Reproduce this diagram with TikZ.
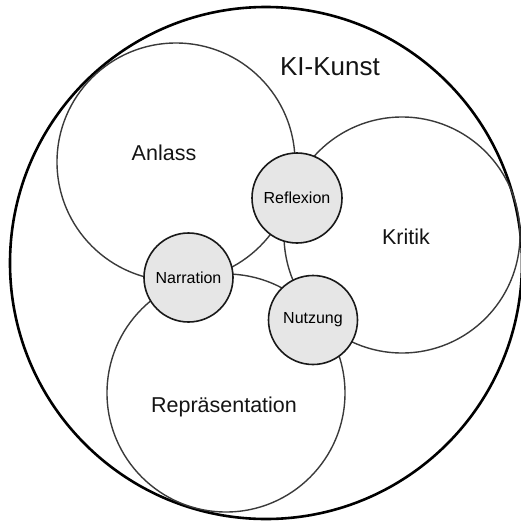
\documentclass[tikz,border=0pt]{standalone}
\usepackage{fontspec}
\setmainfont{Liberation Sans}
\definecolor{smallfill}{HTML}{E6E6E6}
\definecolor{linegray}{HTML}{3A3A3A}
\begin{document}
\begin{tikzpicture}[x=1pt,y=-1pt,
  outerring/.style={circle,draw=black,line width=2.6pt,minimum size=#1,inner sep=0pt},
  area/.style={circle,draw=linegray,line width=1.4pt,minimum size=#1,inner sep=0pt},
  hub/.style={circle,draw=black!90,fill=smallfill,line width=1.6pt,minimum size=#1,inner sep=0pt,font=\fontsize{16}{19}\selectfont},
  biglabel/.style={font=\fontsize{21.5}{25}\selectfont,text=black!92,inner sep=0pt},
  title/.style={font=\fontsize{26}{30}\selectfont,text=black!92,inner sep=0pt}]
\useasboundingbox (0,0) rectangle (521,523);
\node[outerring=512pt] (kunst) at (266,263) {};
\node[area=238pt] (anlass) at (176,162) {};
\node[area=236pt] (kritik) at (402,235) {};
\node[area=238pt] (repr) at (226,393) {};
\node[hub=90pt] (reflexion) at (297,198) {Reflexion};
\node[hub=89pt] (narration) at (188.5,277.5) {Narration};
\node[hub=89pt] (nutzung) at (313,320) {Nutzung};
\node[title] (kitext) at (330,67) {KI-Kunst};
\node[biglabel] (anlasstext) at (164,153) {Anlass};
\node[biglabel] (kritiktext) at (406,237) {Kritik};
\node[biglabel] (reprtext) at (224,407) {Repräsentation};
\end{tikzpicture}
\end{document}
